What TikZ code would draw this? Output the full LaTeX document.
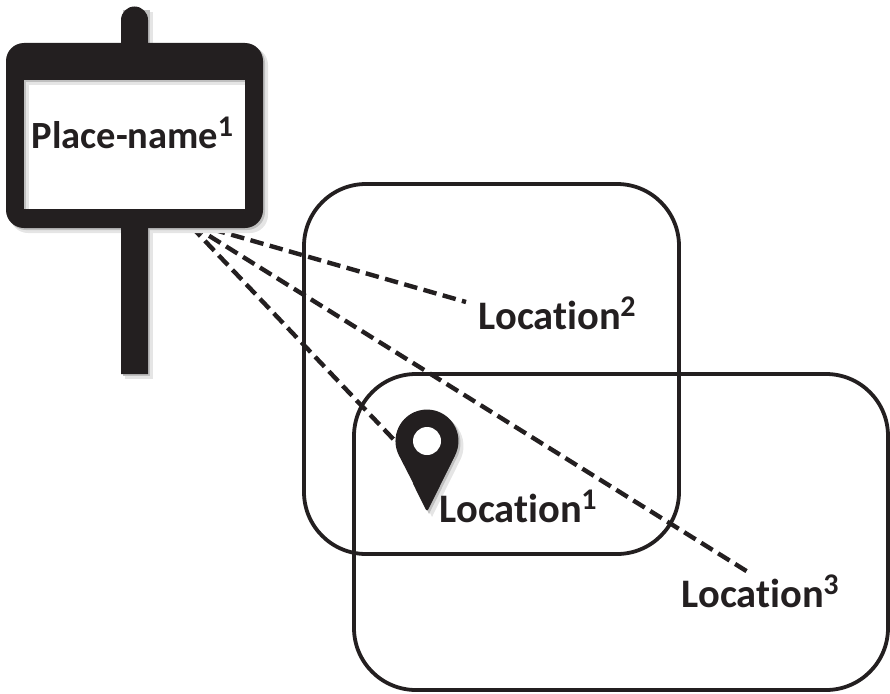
\documentclass[tikz,border=0pt]{standalone}
\usepackage{fontspec}
\setmainfont{Carlito}[Ligatures={NoCommon,TeX},Contextuals=NoAlternate]
\definecolor{ink}{HTML}{231F20}
\newcommand{\sss}[1]{\kern-0.5pt\raisebox{12.5pt}{\fontsize{30}{30}\selectfont #1}}
\tikzset{
  lab/.style={font=\fontsize{40.5}{40}\selectfont\bfseries, text=ink, inner sep=0pt, anchor=base west},
  pnlab/.style={lab, font=\fontsize{38.5}{39}\selectfont\bfseries},
  region/.style={draw=ink, line width=3.8pt, rounded corners=62pt, inner sep=0pt},
  link/.style={draw=ink, line width=4.4pt, dash pattern=on 13.5pt off 6.5pt, dash phase=14pt},
  shadea/.style={fill=black!10, draw=none},
  shadeb/.style={fill=black!25, draw=none},
}
\begin{document}
\begin{tikzpicture}[x=1pt,y=-1pt]
\useasboundingbox (0,0) rectangle (890,693);
% regions
\node[region, minimum width=375pt, minimum height=370pt] (r1) at (491.5,369) {};
\node[region, minimum width=534pt, minimum height=316pt] (r2) at (621,532) {};
% connectors start beneath the sign
\coordinate (fan) at (187,222);
\coordinate (e2) at (466,302);
\coordinate (e3) at (748,572);
\coordinate (e1) at (397,443);
\draw[link] (fan) -- (e2);
\draw[link] (fan) -- (e3);
\draw[link] (fan) -- (e1);
% sign shadow
\fill[shadea] (125,12) rectangle (153,379);
\fill[shadea, rounded corners=18pt] (10,47) rectangle (268,233);
\fill[shadeb] (123,10) rectangle (150,376);
\fill[shadeb, rounded corners=18pt] (8,45) rectangle (265,230);
% sign
\fill[ink] (121,20) arc[start angle=180,end angle=0,x radius=13.5pt,y radius=13.5pt] -- (148,374) -- (121,374) -- cycle;
\node[fill=ink, rounded corners=18pt, minimum width=257pt, minimum height=185pt, inner sep=0pt] (sign) at (134.5,135.5) {};
\node[fill=white, minimum width=221pt, minimum height=129pt, inner sep=0pt] (panel) at (134.5,144.5) {};
\fill[shadea] (24,80) rectangle (245,85);
\fill[shadea] (24,80) rectangle (29,209);
\fill[shadeb] (24,80) rectangle (245,82);
\fill[shadeb] (24,80) rectangle (26,209);
\node[pnlab] (pn) at (31.5,148.5) {Place-name\sss{1}};
% pin shadow
\fill[shadea] (432,517) -- (460.2,460) arc[start angle=-26.3,end angle=206.3,radius=31.5pt] -- cycle;
\fill[shadeb] (429,514) -- (457.2,457) arc[start angle=-26.3,end angle=206.3,radius=31.5pt] -- cycle;
% pin
\fill[ink, rounded corners=3pt] (412.9,483.5) -- (427,512) -- (455.2,455);
\fill[ink] (427,510) -- (455.2,455) arc[start angle=-26.3,end angle=206.3,radius=31.5pt] -- cycle;
\fill[white] (427,441) circle[radius=14pt];
% labels
\node[lab] (l1) at (439.5,522) {Location\sss{1}};
\node[lab] (l2) at (478.5,329) {Location\sss{2}};
\node[lab] (l3) at (681.5,607) {Location\sss{3}};
\end{tikzpicture}
\end{document}
